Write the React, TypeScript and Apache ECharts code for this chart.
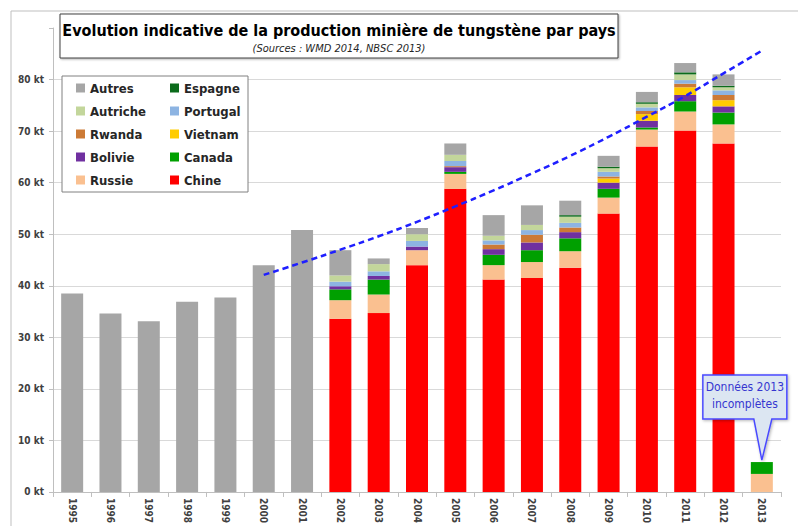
import React, { useEffect, useRef } from "react";
import * as echarts from "echarts";

const years = ["1995","1996","1997","1998","1999","2000","2001","2002","2003","2004","2005","2006","2007","2008","2009","2010","2011","2012","2013"];

// Stacked from bottom to top
const chine    = [null,null,null,null,null,null,null,33.6,34.7,44.0,58.8,41.2,41.5,43.5,54.0,67.0,70.1,67.6,null];
const russie   = [null,null,null,null,null,null,null,3.6,3.6,2.9,2.9,2.8,3.1,3.2,3.1,3.3,3.7,3.7,3.5];
const canada   = [null,null,null,null,null,null,null,2.1,2.9,0,0.4,2.0,2.3,2.5,1.7,0.4,2.0,2.3,2.3];
const bolivie  = [null,null,null,null,null,null,null,0.6,0.7,0.7,0.9,1.1,1.5,1.2,1.2,1.3,1.2,1.2,null];
const vietnam  = [null,null,null,null,null,null,null,0,0,0,0,0,0,0,0.8,1.3,1.5,1.2,null];
const rwanda   = [null,null,null,null,null,null,null,0,0,0,0.2,0.9,1.5,0.9,0.4,0.6,0.7,1.0,null];
const portugal = [null,null,null,null,null,null,null,0.9,0.9,1.1,1.0,0.8,0.9,0.9,0.9,0.7,0.7,0.9,null];
const autriche = [null,null,null,null,null,null,null,1.2,1.4,1.3,1.2,0.9,1.0,1.2,0.7,0.7,1.1,0.6,null];
const espagne  = [null,null,null,null,null,null,null,0,0,0,0,0,0,0.3,0.3,0.3,0.4,0.3,null];
const autres   = [38.5,34.6,33.1,36.9,37.7,44.0,50.8,4.9,1.1,1.2,2.2,4.0,3.8,2.8,2.1,2.0,1.8,2.2,null];

// Dashed trend line
const tendance = [null,null,null,null,null,42.1,44.5,47.0,49.6,52.4,55.4,58.5,61.8,65.2,68.9,72.8,76.8,81.2,85.6];

const yTicks = [0,10,20,30,40,50,60,70,80,90];

const seriesDefs = [
  { name: "Chine", data: chine, color: "#ff0000" },
  { name: "Russie", data: russie, color: "#fac090" },
  { name: "Canada", data: canada, color: "#00a000" },
  { name: "Bolivie", data: bolivie, color: "#7030a0" },
  { name: "Vietnam", data: vietnam, color: "#ffcc00" },
  { name: "Rwanda", data: rwanda, color: "#cc7a36" },
  { name: "Portugal", data: portugal, color: "#8db4e2" },
  { name: "Autriche", data: autriche, color: "#c3d69b" },
  { name: "Espagne", data: espagne, color: "#0b6b1b" },
  { name: "Autres", data: autres, color: "#a6a6a6" },
];

const legendLeft = ["Autres", "Autriche", "Rwanda", "Bolivie", "Russie"];
const legendRight = ["Espagne", "Portugal", "Vietnam", "Canada", "Chine"];

const FONT = '"Liberation Sans Narrow", "DejaVu Sans Condensed", Roboto, sans-serif';

export default function App() {
  const ref = useRef<HTMLDivElement>(null);
  useEffect(() => {
    if (!ref.current) return;
    const chart = echarts.init(ref.current, null, { renderer: "svg" });
    const legendCommon = {
      orient: "vertical",
      itemWidth: 9,
      itemHeight: 9,
      itemGap: 9,
      icon: "rect",
      textStyle: { fontFamily: FONT, fontSize: 13, fontWeight: "bold", color: "#262626", lineHeight: 14 },
      z: 5,
    };
    const option: any = {
      animation: false,
      textStyle: { fontFamily: FONT },
      grid: { left: 53, right: 17, top: 28, bottom: 31 },
      xAxis: {
        type: "category",
        data: years,
        axisLine: { lineStyle: { color: "#bfbfbf" } },
        axisTick: { show: true, length: 5, lineStyle: { color: "#bfbfbf" } },
        axisLabel: { rotate: -90, fontSize: 10, fontWeight: "bold", color: "#404040", margin: 6, fontFamily: FONT },
      },
      yAxis: {
        type: "value",
        min: 0,
        max: 90,
        interval: 10,
        axisLine: { show: true, lineStyle: { color: "#bfbfbf" } },
        axisTick: { show: true, length: 4, lineStyle: { color: "#bfbfbf" } },
        axisLabel: {
          formatter: (v: number) => (v >= 90 ? "" : v + " kt"),
          fontSize: 10,
          fontWeight: "bold",
          color: "#404040",
          margin: 9,
          fontFamily: FONT,
        },
        splitLine: {
          lineStyle: { color: yTicks.map((t) => (t >= 90 ? "rgba(0,0,0,0)" : "#d9d9d9")) },
        },
      },
      legend: [
        { ...legendCommon, left: 71, top: 76, data: legendLeft },
        { ...legendCommon, left: 165, top: 76, data: legendRight },
      ],
      series: [
        ...seriesDefs.map((s) => ({
          name: s.name,
          type: "bar",
          stack: "total",
          data: s.data,
          barWidth: 22,
          itemStyle: { color: s.color },
          z: 2,
        })),
        {
          name: "Tendance",
          type: "line",
          data: tendance,
          symbol: "none",
          smooth: true,
          lineStyle: { color: "#1f1fff", width: 2.5, type: [6, 4] },
          z: 6,
          connectNulls: false,
        },
      ],
      graphic: [
        { id: "frame", type: "rect", shape: { x: 11, y: 11, width: 900, height: 700 }, style: { fill: "none", stroke: "#bfbfbf", lineWidth: 1 }, z: 1, silent: true },
        { id: "titleBox", type: "rect", shape: { x: 60, y: 14, width: 558, height: 44 }, style: { fill: "#fff", stroke: "#404040", lineWidth: 1, shadowBlur: 2, shadowColor: "rgba(0,0,0,0.3)", shadowOffsetX: 1, shadowOffsetY: 1 }, z: 3 },
        { id: "title", type: "text", x: 339, y: 30, style: { text: "Evolution indicative de la production minière de tungstène par pays", align: "center", verticalAlign: "middle", textAlign: "center", textVerticalAlign: "middle", fontFamily: FONT, fontSize: 16, fontWeight: "bold", fill: "#000" }, z: 4 },
        { id: "subtitle", type: "text", x: 339, y: 48, style: { text: "(Sources : WMD 2014, NBSC 2013)", align: "center", verticalAlign: "middle", textAlign: "center", textVerticalAlign: "middle", fontFamily: FONT, fontSize: 11, fontStyle: "italic", fill: "#262626" }, z: 4 },
        { id: "legendBox", type: "rect", shape: { x: 62, y: 76, width: 186, height: 116 }, style: { fill: "#fff", stroke: "#808080", lineWidth: 1 }, z: 3 },
      ],
    };
    chart.setOption(option);

    const total2013 = (russie[18] as number) + (canada[18] as number);
    const tip = chart.convertToPixel({ xAxisIndex: 0, yAxisIndex: 0 }, ["2013", total2013]) as number[];
    const tx = tip[0];
    const ty = tip[1] - 2;
    const L = tx - 59, R = tx + 25, T = ty - 85, B = ty - 41;
    chart.setOption({
      graphic: [
        {
          id: "callout",
          type: "polygon",
          shape: { points: [[L, T], [R, T], [R, B], [tx + 10, B], [tx, ty], [tx - 8, B], [L, B]] },
          style: { fill: "#dce6f2", stroke: "#4a4aff", lineWidth: 1.5, shadowBlur: 3, shadowColor: "rgba(0,0,0,0.3)", shadowOffsetX: 1, shadowOffsetY: 1 },
          z: 7,
        },
        { id: "callText1", type: "text", x: (L + R) / 2, y: T + 12, style: { text: "Données 2013", align: "center", verticalAlign: "middle", textAlign: "center", textVerticalAlign: "middle", fontFamily: FONT, fontSize: 12, fill: "#3636d0" }, z: 8 },
        { id: "callText2", type: "text", x: (L + R) / 2, y: T + 29, style: { text: "incomplètes", align: "center", verticalAlign: "middle", textAlign: "center", textVerticalAlign: "middle", fontFamily: FONT, fontSize: 12, fill: "#3636d0" }, z: 8 },
      ],
    });

    return () => chart.dispose();
  }, []);
  return (
    <div
      ref={ref}
      style={{ position: "fixed", left: 0, top: 0, width: 798, height: 526, background: "#fff" }}
    />
  );
}
